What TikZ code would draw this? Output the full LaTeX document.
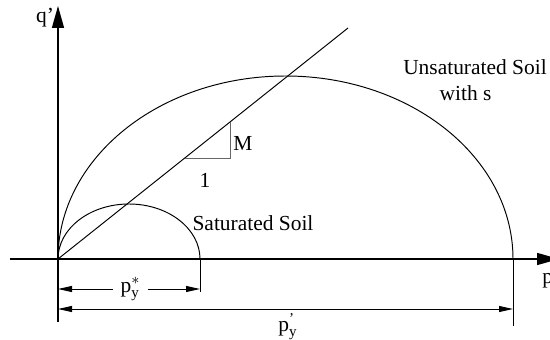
\documentclass[tikz,border=0pt]{standalone}
\usepackage{amsmath}
\usepackage{fontspec}
\setmainfont{Liberation Serif}
\usetikzlibrary{arrows.meta}

\begin{document}
\begin{tikzpicture}[x=1cm,y=1cm,font=\fontsize{12.2}{14.6}\selectfont,
  thinline/.style={line width=0.55pt},
  axisline/.style={line width=0.8pt,-{Triangle[length=0.44cm,width=0.24cm]}},
  dimline/.style={line width=0.55pt,-{Triangle[length=0.28cm,width=0.12cm]}},
  dimboth/.style={line width=0.55pt,{Triangle[length=0.28cm,width=0.12cm]}-{Triangle[length=0.28cm,width=0.12cm]}}]
  \useasboundingbox (-1.16,-1.6) rectangle (9.84,5.18);
  \coordinate (O) at (0,0);
  \coordinate (Ps) at (2.84,0);
  \coordinate (Py) at (9.1,0);
  \draw[axisline] (0,-1.26) -- (0,5.06);
  \draw[axisline] (-0.96,0) -- (10.02,0);
  \node (q) at (-0.26,4.82) {q\char39};
  \node[anchor=west,inner sep=0pt] (p) at (9.68,-0.4) {p\char39};
  \draw[thinline] (O) arc[start angle=180,end angle=0,x radius=4.55cm,y radius=3.66cm];
  \draw[thinline] (O) arc[start angle=180,end angle=0,x radius=1.42cm,y radius=1.1cm];
  \draw[thinline] (O) -- (5.8,4.62);
  \draw[thinline,black!60] (2.54,2.02) -- (3.44,2.02) -- (3.44,2.74);
  \node (M) at (3.7,2.32) {M};
  \node (one) at (2.94,1.58) {1};
  \node (sat) at (3.9,0.72) {Saturated Soil};
  \node[align=left] (unsat) at (8.34,3.58) {Unsaturated Soil\\\hspace*{1.7em}with s};
  \draw[thinline] (Ps) -- (2.84,-0.66);
  \draw[thinline] (Py) -- (9.1,-1.34);
  \node[inner xsep=0.15cm] (pstar) at (1.45,-0.6) {$\mathrm{p}^{*}_{\mathrm{y}}$};
  \draw[dimline] (pstar) -- (0,-0.6);
  \draw[dimline] (pstar) -- (2.84,-0.6);
  \coordinate (dl) at (0,-1);
  \coordinate (dr) at (9.1,-1);
  \draw[dimboth] (dl) -- (dr);
  \node (pyp) at (4.6,-1.36) {$\mathrm{p}^{\text{\char39}}_{\mathrm{y}}$};
\end{tikzpicture}
\end{document}
